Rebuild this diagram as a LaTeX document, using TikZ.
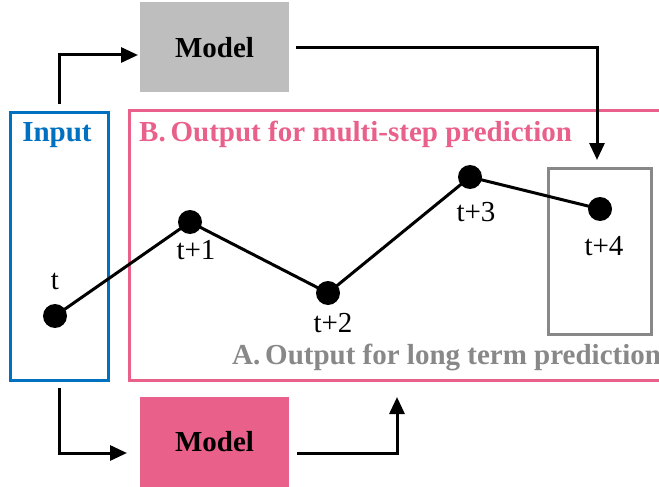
\documentclass[tikz,border=0pt]{standalone}
\usepackage{fontspec}
\setmainfont{Liberation Serif}
\usetikzlibrary{arrows.meta}
\definecolor{pinkc}{HTML}{E9608A}
\definecolor{bluec}{HTML}{0070C0}
\definecolor{grayc}{HTML}{888888}
\definecolor{modelgray}{HTML}{BEBEBE}
\tikzset{
  modelbox/.style={rectangle, minimum width=149pt, minimum height=90pt, inner sep=0pt, font=\fontsize{29}{33}\selectfont\bfseries},
  framebox/.style={rectangle, draw, line width=3pt, inner sep=0pt},
  pt/.style={circle, fill=black, minimum size=24pt, inner sep=0pt},
  ptlbl/.style={font=\fontsize{29}{33}\selectfont, inner sep=0pt},
  ttl/.style={font=\fontsize{29}{33}\selectfont\bfseries, inner sep=0pt, anchor=west},
  arr/.style={line width=3pt, -{Triangle[length=17pt,width=15pt]}},
  ln/.style={line width=3pt},
}
\begin{document}
\begin{tikzpicture}[x=1pt,y=-1pt]
\useasboundingbox (0,0) rectangle (659,487);
\clip (0,0) rectangle (659,487);
\fill[white] (0,0) rectangle (659,487);
% frames
\node[framebox, draw=pinkc, minimum width=534pt, minimum height=270pt] (outB) at (396,245) {};
\node[framebox, draw=bluec, minimum width=98pt, minimum height=268pt] (input) at (59,246) {};
\node[framebox, draw=grayc, minimum width=103pt, minimum height=166pt] (outA) at (599.5,251) {};
% titles
\node[ttl, text=bluec, anchor=center] (inlbl) at (57,135) {Input};
\node[ttl, text=pinkc] (blbl) at (139,134) {B.\,Output for multi-step prediction};
\node[ttl, text=grayc] (albl) at (232,357) {A.\,Output for long term prediction};
% models
\node[modelbox, fill=modelgray] (mtop) at (214.5,47.5) {Model};
\node[modelbox, fill=pinkc] (mbot) at (214.5,441.5) {Model};
% points
\node[pt] (p0) at (55,316) {};
\node[pt] (p1) at (190,222) {};
\node[pt] (p2) at (328,293) {};
\node[pt] (p3) at (470,177) {};
\node[pt] (p4) at (600,209) {};
\draw[ln] (p0.center) -- (p1.center) -- (p2.center) -- (p3.center) -- (p4.center);
\node[ptlbl] (l0) at (55,281) {t};
\node[ptlbl] (l1) at (196,250) {t+1};
\node[ptlbl] (l2) at (333,323) {t+2};
\node[ptlbl] (l3) at (476,212) {t+3};
\node[ptlbl] (l4) at (604,246) {t+4};
% connectors
\coordinate (c1) at (59,104);
\coordinate (c2) at (138,55);
\draw[arr] (c1) |- (c2);
\coordinate (c3) at (597,160);
\draw[arr, shorten <=7pt] (mtop.east) -| (c3);
\coordinate (c4) at (59,388);
\coordinate (c5) at (127,453);
\draw[arr] (c4) |- (c5);
\coordinate (c6) at (297,453);
\coordinate (c7) at (397,397);
\draw[arr] (c6) -| (c7);
\end{tikzpicture}
\end{document}
